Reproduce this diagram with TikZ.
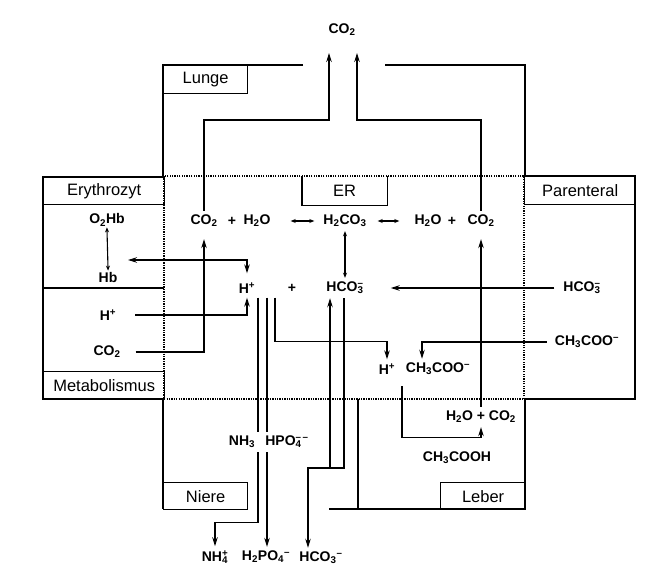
\documentclass[tikz,border=0pt]{standalone}
\usepackage{fontspec}
\setmainfont{Liberation Sans}
\usetikzlibrary{arrows.meta, positioning, calc}
\newcommand{\chemss}[2]{\rlap{\textsubscript{#1}}\textsuperscript{#2}}

\begin{document}
\begin{tikzpicture}[
    x=1pt, y=-1pt,
    >={Stealth[length=9pt, width=5.5pt]},
    chem/.style={font=\fontsize{14}{16}\selectfont\bfseries, inner sep=4pt},
    organ/.style={draw, line width=1.3pt, anchor=north west,
                  font=\fontsize{16.5}{18}\selectfont, inner sep=0pt},
    wall/.style={line width=1.3pt},
    border/.style={line width=1.8pt, dash pattern=on 1.3pt off 1.1pt},
    arrow/.style={->, line width=1.2pt},
    flow/.style={line width=1.2pt},
    both/.style={{Stealth[length=5pt, width=4pt]}-{Stealth[length=5pt, width=4pt]},
                 line width=1.1pt},
]
    \useasboundingbox (0,0) rectangle (662,578);

    % organ boxes
    \node[organ, minimum width=84pt, minimum height=28pt] (lunge) at (163,65) {Lunge};
    \node[organ, minimum width=121pt, minimum height=27pt] (ery) at (43,177) {Erythrozyt};
    \node[organ, minimum width=121pt, minimum height=28pt] (meta) at (43,371) {Metabolismus};
    \node[organ, minimum width=111pt, minimum height=28pt] (par) at (524,176) {Parenteral};
    \node[organ, minimum width=84pt, minimum height=27pt] (niere) at (163,482) {Niere};
    \node[organ, minimum width=85pt, minimum height=27pt] (leber) at (440,482) {Leber};
    \node[organ, draw=none, minimum width=84pt, minimum height=28pt] (er) at (302,176) {ER};
    \draw[wall] (er.north west) |- (er.south east) -- (er.north east);

    % outlines
    \draw[wall] (303,65) -- (163,65) -- (163,176);
    \draw[wall] (385,65) -- (525,65) -- (525,176);
    \draw[wall] (164,177) -- (43,177) -- (43,399) -- (164,399);
    \draw[wall] (43,288) -- (164,288);
    \draw[wall] (524,176) -- (635,176) -- (635,399) -- (524,399);
    \draw[wall] (163,399) -- (163,509);
    \draw[wall] (329,509) -- (525,509) -- (525,399);
    \draw[wall] (358,399) -- (358,509);
    \draw[border] (164,176) rectangle (524,399);

    % substances
    \node[chem] (co2top) at (342,30) {CO\textsubscript{2}};
    \node[chem] (co2a) at (204,221) {CO\textsubscript{2}};
    \node[chem] (plusa) at (232,221) {+};
    \node[chem] (h2oa) at (257,221) {H\textsubscript{2}O};
    \node[chem] (h2co3) at (345,221) {H\textsubscript{2}CO\textsubscript{3}};
    \node[chem] (h2ob) at (428,221) {H\textsubscript{2}O};
    \node[chem] (plusb) at (452,221) {+};
    \node[chem] (co2b) at (481,221) {CO\textsubscript{2}};
    \node[chem] (o2hb) at (107,220) {O\textsubscript{2}Hb};
    \node[chem] (hb) at (108,277) {Hb};
    \node[chem] (hplus) at (247,288) {H\textsuperscript{+}};
    \node[chem] (plusc) at (292,288) {+};
    \node[chem] (hco3) at (345,288) {HCO\chemss{3}{\textendash}};
    \node[chem] (hmet) at (108,315) {H\textsuperscript{+}};
    \node[chem] (co2met) at (107,352) {CO\textsubscript{2}};
    \node[chem] (hco3par) at (582,288) {HCO\chemss{3}{\textendash}};
    \node[chem] (ch3coopar) at (587,342) {CH\textsubscript{3}COO\textsuperscript{\textendash}};
    \node[chem] (hplusb) at (387,369) {H\textsuperscript{+}};
    \node[chem] (ch3coo) at (438,369) {CH\textsubscript{3}COO\textsuperscript{\textendash}};
    \node[chem] (nh3) at (242,442) {NH\textsubscript{3}};
    \node[chem] (hpo4) at (287,442) {HPO\chemss{4}{\textendash\,\textendash}};
    \node[chem] (h2oco2) at (481,417) {H\textsubscript{2}O + CO\textsubscript{2}};
    \node[chem] (ch3cooh) at (457,458) {CH\textsubscript{3}COOH};
    \node[chem] (nh4) at (215,557) {NH\chemss{4}{+}};
    \node[chem] (h2po4) at (266,557) {H\textsubscript{2}PO\textsubscript{4}\textsuperscript{\textendash}};
    \node[chem] (hco3u) at (321,558) {HCO\textsubscript{3}\textsuperscript{\textendash}};

    % lung
    \coordinate (bendL) at (329,120);
    \coordinate (tipL) at (329,53);
    \coordinate (bendR) at (357,120);
    \coordinate (tipR) at (357,53);
    \draw[arrow] (co2a.north) |- (bendL) -- (tipL);
    \draw[arrow] (co2b.north) |- (bendR) -- (tipR);

    % equilibria
    \draw[both, shorten <=-3pt, shorten >=-3pt] (o2hb.south) -- (hb.north);
    \draw[both, shorten <=16pt, shorten >=5pt] (h2oa.east) -- (h2co3.west);
    \draw[both, shorten <=7pt, shorten >=11pt] (h2co3.east) -- (h2ob.west);
    \draw[both] (h2co3.south) -- (hco3.north);

    % erythrocyte and metabolism
    \coordinate (hbtip) at (128,260);
    \draw[<->, line width=1.2pt, shorten >=5pt] (hbtip) -| (hplus.north);
    \draw[arrow, shorten <=15pt] (hmet.east) -| (hplus.south);
    \draw[arrow, shorten <=11pt, shorten >=8pt] (co2met.east) -| (co2a.south);

    % parenteral
    \draw[arrow, shorten <=5pt, shorten >=23pt] (hco3par.west) -- (hco3.east);
    \draw[arrow, shorten <=4pt] (ch3coopar.west) -| ([xshift=-16pt]ch3coo.north);

    % kidney
    \coordinate (colN) at ([xshift=11pt]hplus.south);
    \coordinate (colP) at ([xshift=20pt]hplus.south);
    \coordinate (colH) at ([xshift=28pt]hplus.south);
    \draw[arrow] (colH) |- ([yshift=18pt]hplusb.north) -- (hplusb.north);
    \draw[flow] (colN) -- (colN |- nh3.north);
    \draw[arrow] (colN |- nh3.south) |- ([yshift=24pt]nh4.north) -- (nh4.north);
    \draw[flow] (colP) -- (colP |- hpo4.north);
    \draw[arrow] (colP |- hpo4.south) -- (colP |- h2po4.north);
    \coordinate (loop) at (344,468);
    \coordinate (loopL) at (308,468);
    \coordinate (reab) at (330,468);
    \draw[arrow] (hco3.south -| loop) -- (loop) -- (loopL) -- (loopL |- hco3u.north);
    \draw[arrow] (reab) -- (reab |- hco3.south);

    % liver
    \coordinate (hac) at (402,386);
    \draw[arrow] (hac) |- ([yshift=-10pt]h2oco2.south) -- (h2oco2.south);
    \draw[arrow, shorten >=8pt] (co2b.south |- h2oco2.north) -- (co2b.south);
\end{tikzpicture}
\end{document}
